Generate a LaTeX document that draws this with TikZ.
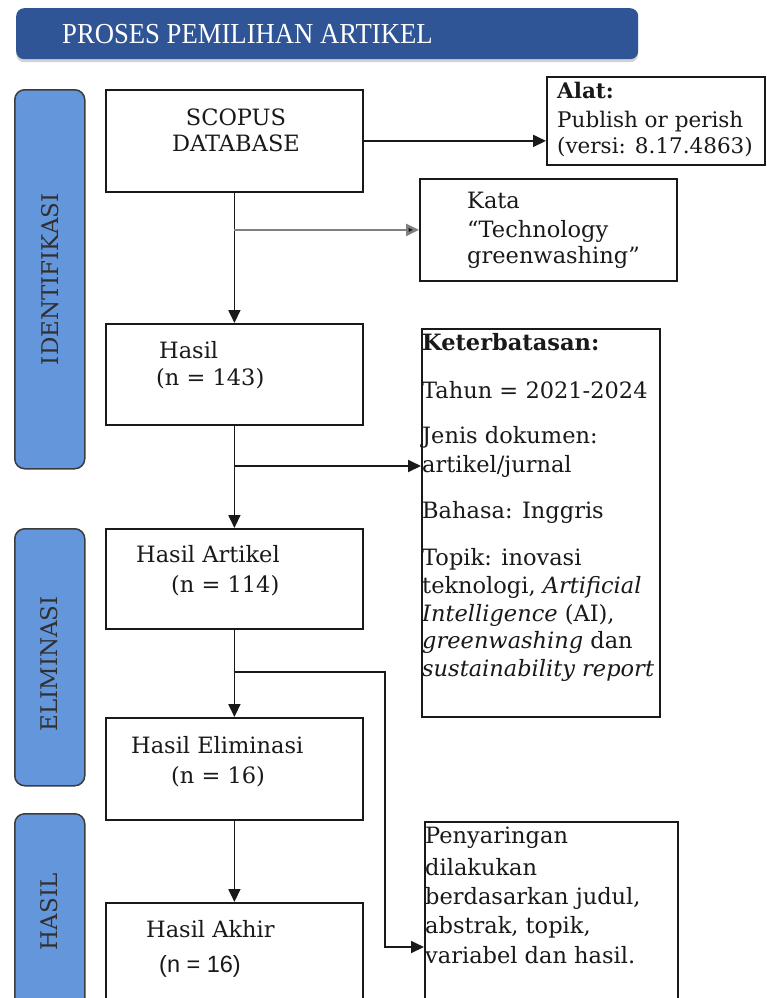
\documentclass[tikz,border=0pt]{standalone}
\usepackage{fontspec}
\setmainfont{DejaVu Serif}
\setsansfont{Liberation Sans}
\newfontfamily\titlefont[FakeStretch=0.92]{Liberation Serif}
\usetikzlibrary{arrows.meta,shadows}
\definecolor{titleblue}{RGB}{47,85,151}
\definecolor{barblue}{RGB}{100,150,220}
\definecolor{ink}{RGB}{25,25,25}
\begin{document}
\begin{tikzpicture}[x=1pt,y=-1pt,
  box/.style={draw=ink, line width=1.8pt, fill=white, inner sep=0pt, anchor=north west},
  sidebar/.style={draw=ink!85, line width=1.5pt, fill=barblue, rounded corners=10pt, inner sep=0pt, anchor=north west},
  sidetext/.style={rotate=90, font=\fontsize{23}{23}\selectfont, text=ink!90},
  txt/.style={anchor=base west, inner sep=0pt, font=\fontsize{22.5}{26}\selectfont, text=ink},
  ctxt/.style={anchor=base, inner sep=0pt, font=\fontsize{22.5}{26}\selectfont, text=ink},
  flow/.style={line width=1.8pt, draw=ink, -{Triangle[length=13pt,width=12pt]}},
  greyflow/.style={line width=2.6pt, draw=black!50, -{Triangle[length=13pt,width=12pt,fill=ink]}}
]
\useasboundingbox[fill=white] (0,0) rectangle (766,998);

% title bar
\node[draw=none, fill=titleblue, rounded corners=8pt, inner sep=0pt, anchor=north west,
  minimum width=622pt, minimum height=51pt,
  drop shadow={shadow xshift=0pt, shadow yshift=-3pt, opacity=0.35}] (title) at (16,8) {};
\node[anchor=base west, inner sep=0pt, text=white, font=\titlefont\fontsize{29}{29}\selectfont] (titletext) at (62,44) {PROSES PEMILIHAN ARTIKEL};

% side bars
\node[sidebar, minimum width=70pt, minimum height=379pt] (idbar) at (14,89) {};
\node[sidetext] (idtext) at (idbar.center) {IDENTIFIKASI};
\node[sidebar, minimum width=70pt, minimum height=257pt] (elbar) at (14,528) {};
\node[sidetext] (eltext) at (49,664) {ELIMINASI};
\node[sidebar, minimum width=70pt, minimum height=220pt] (habar) at (14,813) {};
\node[sidetext] (hatext) at (49,912) {HASIL};

% main column boxes
\node[box, minimum width=257pt, minimum height=102pt] (scopus) at (105,89) {};
\node[ctxt] (scopus1) at (236,125) {SCOPUS};
\node[ctxt] (scopus2) at (236,151) {DATABASE};

\node[box, minimum width=257pt, minimum height=101pt] (hasil) at (105,323) {};
\node[txt] (hasil1) at (159,358) {Hasil};
\node[txt] (hasil2) at (156,385) {(n = 143)};

\node[box, minimum width=257pt, minimum height=100pt] (artikel) at (105,528) {};
\node[txt] (artikel1) at (136,562) {Hasil Artikel};
\node[txt] (artikel2) at (171,592) {(n = 114)};

\node[box, minimum width=257pt, minimum height=102pt] (elim) at (105,717) {};
\node[txt] (elim1) at (131,753) {Hasil Eliminasi};
\node[txt] (elim2) at (171,783) {(n = 16)};

\node[box, minimum width=257pt, minimum height=130pt] (akhir) at (105,902) {};
\node[txt] (akhir1) at (146,937) {Hasil Akhir};
\node[txt, font=\sffamily\fontsize{23.5}{26}\selectfont] (akhir2) at (159,972) {(n = 16)};

% right column boxes
\node[box, minimum width=218pt, minimum height=88pt] (alat) at (546,76) {};
\node[txt, font=\bfseries\fontsize{21.5}{26}\selectfont] (alat1) at (557,98) {Alat:};
\node[txt, font=\fontsize{21.5}{26}\selectfont] (alat2) at (557,127) {Publish or perish};
\node[txt, font=\fontsize{21.5}{26}\selectfont] (alat3) at (557,153) {(versi: 8.17.4863)};

\node[box, minimum width=257pt, minimum height=102pt] (kata) at (419,178) {};
\node[txt] (kata1) at (467,208) {Kata};
\node[txt] (kata2) at (467,237) {“Technology};
\node[txt] (kata3) at (467,263) {greenwashing”};

\node[box, minimum width=238pt, minimum height=388pt] (ket) at (421,328) {};
\node[txt, font=\bfseries\fontsize{22.5}{26}\selectfont] (ket1) at (422,350) {Keterbatasan:};
\node[txt] (ket2) at (422,398) {Tahun = 2021-2024};
\node[txt] (ket3) at (422,443) {Jenis dokumen:};
\node[txt] (ket4) at (422,472) {artikel/jurnal};
\node[txt] (ket5) at (422,518) {Bahasa: Inggris};
\node[txt] (ket6) at (422,565) {Topik: inovasi};
\node[txt] (ket7) at (422,593) {teknologi, \textit{Artificial}};
\node[txt] (ket8) at (422,621) {\textit{Intelligence} (AI),};
\node[txt] (ket9) at (422,648) {\textit{greenwashing} dan};
\node[txt] (ket10) at (422,676) {\textit{sustainability report}};

\node[box, minimum width=253pt, minimum height=200pt] (peny) at (424,821) {};
\node[txt] (peny1) at (425,843) {Penyaringan};
\node[txt] (peny2) at (425,875) {dilakukan};
\node[txt] (peny3) at (425,904) {berdasarkan judul,};
\node[txt] (peny4) at (425,933) {abstrak, topik,};
\node[txt] (peny5) at (425,963) {variabel dan hasil.};

% connectors
\draw[flow] (scopus.east) -- (scopus.east -| alat.west);
\draw[flow] (scopus.south) -- (hasil.north);
\coordinate (b1) at (scopus.south |- kata.west);
\draw[greyflow] (b1) -- (kata.west);
\draw[flow] (hasil.south) -- (artikel.north);
\coordinate (b2) at (233.5,466);
\draw[flow] (b2) -- (b2 -| ket.west);
\draw[flow] (artikel.south) -- (elim.north);
\coordinate (b3) at (233.5,672);
\coordinate (b4) at (385,947);
\draw[flow] (b3) -| (b4) -- (b4 -| peny.west);
\draw[flow] (elim.south) -- (akhir.north);
\end{tikzpicture}
\end{document}
